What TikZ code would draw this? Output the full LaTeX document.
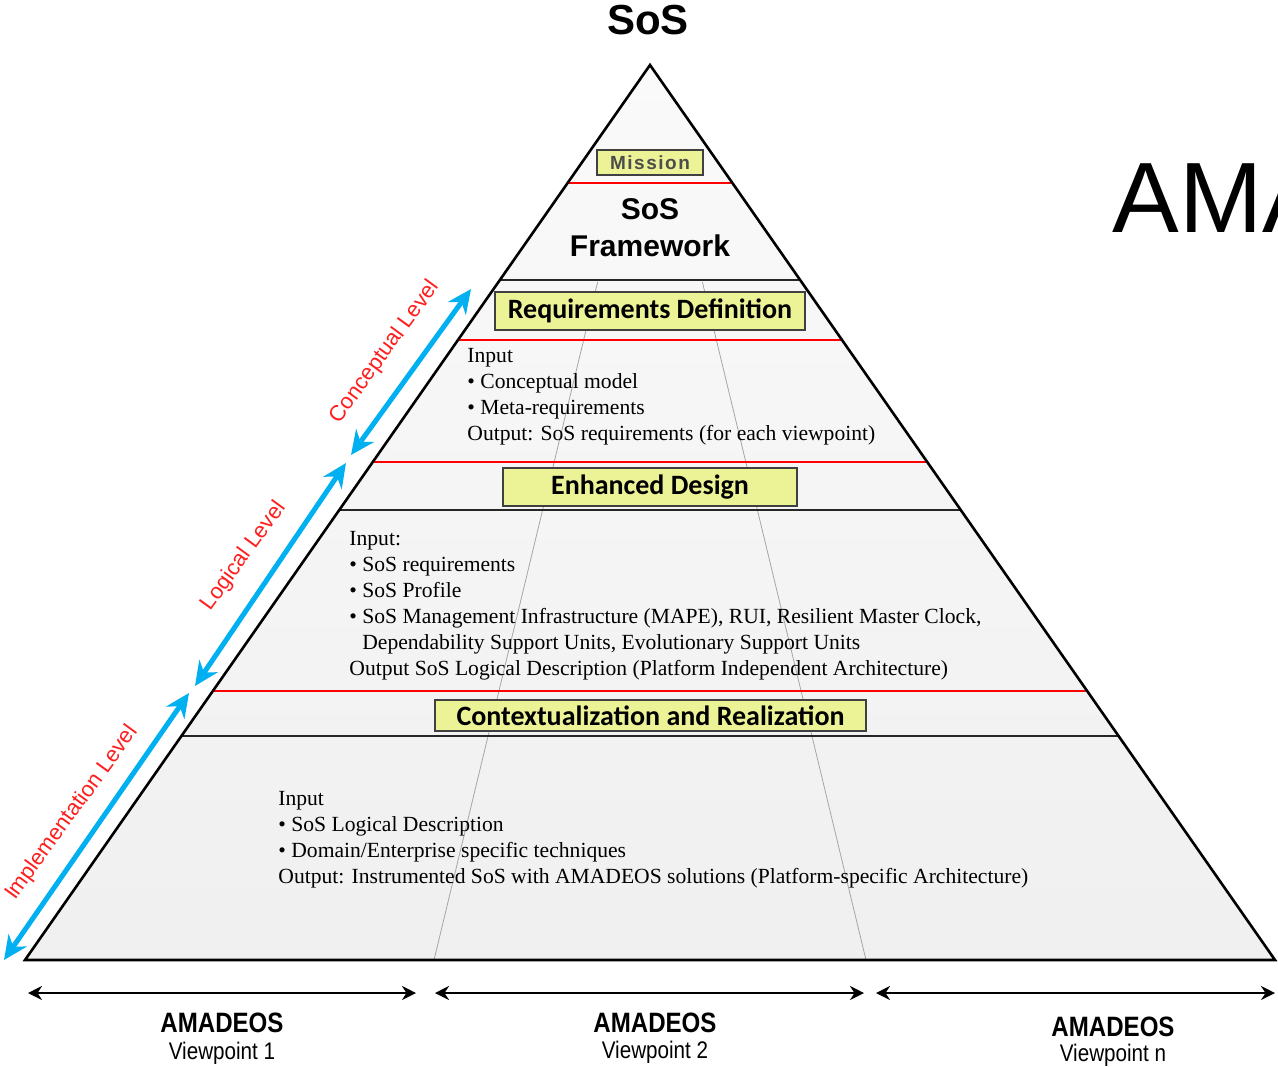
\documentclass[tikz,border=0pt]{standalone}
\usepackage{fontspec}
\setmainfont{Liberation Serif}
\setsansfont{Liberation Sans}
\newfontfamily\narrowsans[FakeStretch=0.86]{Liberation Sans}
\newfontfamily\spacedsans[LetterSpace=8]{Liberation Sans}
\newfontfamily\boxfont{Carlito}
\usetikzlibrary{calc}
\usetikzlibrary{arrows.meta}
\usetikzlibrary{positioning}

\definecolor{stepyellow}{RGB}{236,242,150}
\definecolor{levelblue}{RGB}{0,176,240}
\definecolor{levelred}{RGB}{255,30,30}

\begin{document}
\begin{tikzpicture}[x=0.5pt,y=-0.5pt,
    stepbox/.style={draw=black!75, line width=0.8pt, fill=stepyellow, inner sep=0pt,
        font=\boxfont\bfseries\fontsize{14}{16}\selectfont},
    infotext/.style={anchor=north west, inner sep=0pt, align=left,
        font=\fontsize{10.8}{13}\selectfont},
    levelarrow/.style={levelblue, line width=2.5pt,
        {Stealth[length=12pt,width=11pt]}-{Stealth[length=12pt,width=11pt]}},
    levellabel/.style={text=levelred, rotate=54, inner sep=0pt,
        font=\sffamily\fontsize{11}{13}\selectfont},
    viewarrow/.style={line width=1.2pt,
        {Stealth[length=7pt,width=7pt]}-{Stealth[length=7pt,width=7pt]}},
    redline/.style={red, line width=1pt},
    blackline/.style={black!85, line width=1pt}]
    \useasboundingbox (0,0) rectangle (1278,1066);

    % pyramid
    \coordinate (apex) at (650,65);
    \coordinate (bl) at (25,960);
    \coordinate (br) at (1275,960);
    \coordinate (vl) at (434,960);
    \coordinate (vr) at (866,960);
    \fill[top color=gray!4, bottom color=gray!12] (apex) -- (bl) -- (br) -- cycle;
    \draw[gray!70, line width=0.4pt] ($(apex)!0.2425!(vl)$) -- (vl);
    \draw[gray!70, line width=0.4pt] ($(apex)!0.2425!(vr)$) -- (vr);
    \foreach \yy/\sty in {183/redline,280/blackline,340/redline,462/redline,
        510/blackline,691/redline,736/blackline} {
        \pgfmathsetmacro\tpart{(\yy-65)/895}
        \draw[\sty] ($(apex)!\tpart!(bl)$) -- ($(apex)!\tpart!(br)$);
    }
    \draw[line width=1.3pt] (apex) -- (bl) -- (br) -- cycle;

    % steps
    \node[stepbox, minimum width=53pt, minimum height=12.5pt, text=black!70,
        font=\spacedsans\bfseries\fontsize{9.5}{11}\selectfont] (mission) at (650,162.5) {Mission};
    \node[align=center, font=\sffamily\bfseries\fontsize{15}{18.5}\selectfont] (framework) at (650,228) {SoS\\Framework};
    \node[stepbox, minimum width=155pt, minimum height=19pt] (reqdef) at (650,311) {Requirements Definition};
    \node[stepbox, minimum width=147pt, minimum height=19pt] (design) at (650,487) {Enhanced Design};
    \node[stepbox, minimum width=215.5pt, minimum height=15.5pt] (realize) at (650.5,715.5) {Contextualization and Realization};

    \node[infotext] (reqtext) at (467,348) {Input\\
        \textbullet\ Conceptual model\\
        \textbullet\ Meta-requirements\\
        Output: SoS requirements (for each viewpoint)};
    \node[infotext] (designtext) at (349,531) {Input:\\
        \textbullet\ SoS requirements\\
        \textbullet\ SoS Profile\\
        \textbullet\ SoS Management Infrastructure (MAPE), RUI, Resilient Master Clock,\\
        \phantom{\textbullet\ }Dependability Support Units, Evolutionary Support Units\\
        Output SoS Logical Description (Platform Independent Architecture)};
    \node[infotext] (realtext) at (278,791) {Input\\
        \textbullet\ SoS Logical Description\\
        \textbullet\ Domain/Enterprise specific techniques\\
        Output: Instrumented SoS with AMADEOS solutions (Platform-specific Architecture)};

    \node[font=\sffamily\bfseries\fontsize{21}{24}\selectfont] (title) at (648,20) {SoS};
    \begin{scope}
        \clip (0,0) rectangle (1278,1066);
        \node[anchor=base west, inner sep=0pt, font=\sffamily\fontsize{50}{60}\selectfont] (ama) at (1112,232) {AMA};
    \end{scope}

    % levels
    \coordinate (conctop) at (471,289);
    \coordinate (concbot) at (351,455);
    \coordinate (logtop) at (346,463);
    \coordinate (logbot) at (195,686);
    \coordinate (imptop) at (189,693);
    \coordinate (impbot) at (4,960);
    \draw[levelarrow] (conctop) -- (concbot);
    \draw[levelarrow] (logtop) -- (logbot);
    \draw[levelarrow] (imptop) -- (impbot);
    \node[levellabel] (conclabel) at (385,352) {Conceptual Level};
    \node[levellabel] (loglabel) at (244,556) {Logical Level};
    \node[levellabel] (implabel) at (72,813) {Implementation Level};

    % viewpoints
    \coordinate (vp1a) at (28,993);
    \coordinate (vp1b) at (416,993);
    \coordinate (vp2a) at (435,993);
    \coordinate (vp2b) at (864,993);
    \coordinate (vpna) at (876,993);
    \coordinate (vpnb) at (1275,993);
    \draw[viewarrow] (vp1a) -- (vp1b);
    \draw[viewarrow] (vp2a) -- (vp2b);
    \draw[viewarrow] (vpna) -- (vpnb);
    \node[font=\narrowsans\bfseries\fontsize{14}{16}\selectfont] (vp1) at (222,1023) {AMADEOS};
    \node[font=\narrowsans\fontsize{12}{14}\selectfont] (vp1name) at (222,1053) {Viewpoint 1};
    \node[font=\narrowsans\bfseries\fontsize{14}{16}\selectfont] (vp2) at (655,1023) {AMADEOS};
    \node[font=\narrowsans\fontsize{12}{14}\selectfont] (vp2name) at (655,1052) {Viewpoint 2};
    \node[font=\narrowsans\bfseries\fontsize{14}{16}\selectfont] (vpn) at (1113,1027) {AMADEOS};
    \node[font=\narrowsans\fontsize{12}{14}\selectfont] (vpnname) at (1113,1055) {Viewpoint n};
\end{tikzpicture}
\end{document}
